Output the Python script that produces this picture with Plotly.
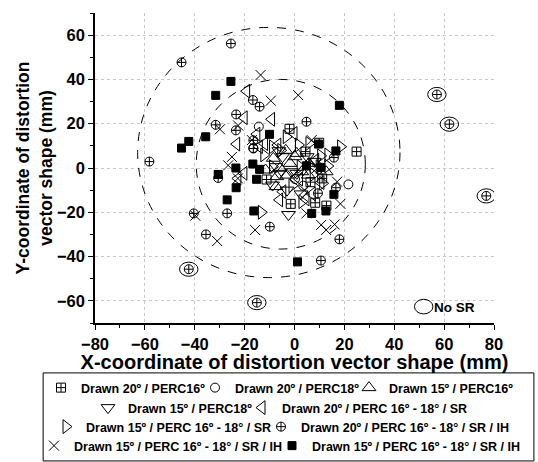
import plotly.graph_objects as go

# ---- data (mm) -------------------------------------------------------------
sqx_x = [-2.0, 24.9, 9.9, -11.2, 6.4, 11.1, -1.5, 8.3, 12.8, 4.4]
sqx_y = [17.7, 7.4, 11.4, -5.2, -6.4, -4.7, -16.2, -15.7, -17.0, 7.4]

circ_x = [-14.3, 21.6, 0.2, 3.5, -16.5]
circ_y = [18.7, -7.4, -5.0, -8.0, 9.0]

tup_x = [-1.8, -5.8, -7.1, -3.1, 2.9, -8.5, 0.2, 5.5, 0.9, 5.8, 12.7, -11.6, -7.4, -3.5]
tup_y = [2.1, -0.1, -3.9, -3.2, -1.7, 4.4, 5.1, -3.2, 6.6, 2.1, -1.7, -0.9, -8.4, 8.0]

tdn_x = [-2.4, 2.6, -6.3, -4.8, -7.4, -6.0, -8.8, -1.2, 5.1, 0.9, -3.0, 8.0]
tdn_y = [-21.0, -11.7, 7.8, 5.1, 0.6, -2.4, -7.7, -1.7, 5.1, -2.4, -10.0, 3.0]

tlf_x = [-19.2, -20.2, -9.2, -23.2, -0.2, -15.1, -14.1, -6.7, -20.3, -22.7,
         -6.0, -4.7, 10.6, 7.1, 4.6, -12.0, 2.0, 8.5]
tlf_y = [34.7, 22.7, 22.0, 10.8, 15.6, 15.3, 9.6, 10.4, -2.4, -4.7,
         -14.4, -10.7, -6.6, -11.7, -14.0, 11.0, -5.0, 3.5]

trt_x = [18.5, 13.4, 10.5, 5.8, 1.6, -3.3, -8.8, -12.3, -8.8, 2.3, 9.9, 13.4,
         11.3, 3.0, -13.3, -5.5, 7.5, -1.0]
trt_y = [9.6, 5.9, 5.5, 11.1, 10.4, 14.1, 9.6, 5.9, 0.6, 0.6, 0.6, 0.9,
         -6.9, -15.2, -20.0, 8.0, -3.0, -8.0]

cx_x = [-25.5, -45.3, -58.2, -16.7, -14.0, -23.4, -23.5, -31.6, 4.8, -16.5,
        -16.5, -30.6, -40.4, -27.0, -35.5, -9.9, 10.6, 18.0, 9.4, 16.6, 15.8,
        57.1, 62.1, 76.9, -42.4, -15.1]
cx_y = [56.2, 47.7, 2.9, 30.7, 27.7, 24.2, 17.0, 19.5, 20.9, 12.5,
        8.8, -4.5, -20.5, -20.5, -30.0, -26.5, -41.8, -32.2, -11.4, -8.9, 4.7,
        33.2, 19.8, -12.6, -45.7, -60.8]

xt_x = [-13.6, -9.5, 1.5, -29.9, -22.6, -25.1, -26.6, -22.7, -17.1, -39.8,
        -31.0, -15.8, 4.8, 10.7, 12.7, 16.1, 18.4, 17.1, 6.9, 4.0, 9.0]
xt_y = [42.0, 30.4, 32.9, 17.5, 19.2, 5.0, 1.2, -4.7, 12.6, -21.5,
        -33.0, -28.0, -20.5, -25.7, -28.0, -25.5, -16.2, -6.2, 12.6, -10.0, 0.0]

fsq_x = [-25.5, -31.6, 18.0, -35.6, -42.4, -45.3, -10.0, 9.6, 16.6, -23.5,
         -16.7, -14.0, -30.6, -15.2, -23.4, 4.8, 10.6, 15.8, -27.0, -16.3,
         6.9, 12.6, 1.2]
fsq_y = [39.1, 32.8, 28.3, 14.1, 12.0, 9.0, 15.2, 10.8, 7.7, 0.0,
         1.8, -0.6, -2.9, -5.1, -8.9, 1.0, 0.3, -11.9, -14.4, -19.4,
         -20.5, -19.4, -42.4]

# points without SR (circled)
nosr_x = [57.1, 62.1, 76.9, -42.4, -15.1]
nosr_y = [33.2, 19.8, -12.6, -45.7, -60.8]

# dashed reference circles: (centre x, centre y, radius x, radius y)
rings = [(-10.3, 7.0, 52.6, 56.5), (-5.5, 1.7, 33.9, 38.3)]

FONT = "Liberation Sans, Arial, sans-serif"
IH = "Drawn 15º / PERC 16º - 18° / SR / IH"

series = [
    ("Drawn 20º / PERC16º", sqx_x, sqx_y, "square-cross-open", 9),
    ("Drawn 20º / PERC18º", circ_x, circ_y, "circle-open", 9),
    ("Drawn 15º / PERC16º", tup_x, tup_y, "triangle-up-open", 12),
    ("Drawn 15º / PERC18º", tdn_x, tdn_y, "triangle-down-open", 12),
    ("Drawn 20º / PERC 16º - 18° / SR", tlf_x, tlf_y, "triangle-left-open", 12),
    ("Drawn 15º / PERC 16º - 18° / SR", trt_x, trt_y, "triangle-right-open", 12),
    ("Drawn 20º / PERC 16º - 18° / SR / IH", cx_x, cx_y, "circle-cross-open", 9),
    (IH, xt_x, xt_y, "x-thin-open", 10),
    (IH, fsq_x, fsq_y, "square", 8),
]

# legend key layout: one key per series, (left edge px, row centre px)
key_pos = [(41, 388), (195, 388), (349, 388),
           (88, 408), (242, 408),
           (46, 427), (261, 427),
           (34, 446), (272, 446)]

W, H = 538, 462

fig = go.Figure()
leg_layout = {}
for i, ((name, xs, ys, sym, size), (lx, ly)) in enumerate(zip(series, key_pos)):
    key = "legend" if i == 0 else f"legend{i + 1}"
    fig.add_trace(go.Scatter(
        x=xs, y=ys, mode="markers", name=name, legend=key, showlegend=True,
        marker=dict(symbol=sym, size=size, color="black",
                    line=dict(color="black", width=1)),
    ))
    leg_layout[key] = dict(orientation="h", xref="container", yref="container",
                           x=lx / W, xanchor="left",
                           y=(H - ly) / H, yanchor="middle", itemwidth=30,
                           bgcolor="rgba(0,0,0,0)", borderwidth=0,
                           font=dict(family=FONT, size=12.5, color="black",
                                     weight="bold"))

shapes = []
for cx, cy, rx, ry in rings:
    shapes.append(dict(type="circle", xref="x", yref="y",
                       x0=cx - rx, x1=cx + rx, y0=cy - ry, y1=cy + ry,
                       line=dict(color="black", width=1, dash="dash")))
for px, py in zip(nosr_x, nosr_y):
    shapes.append(dict(type="circle", xref="x", yref="y",
                       x0=px - 3.7, x1=px + 3.7, y0=py - 3.2, y1=py + 3.2,
                       line=dict(color="black", width=1)))
# key for the circled points
shapes.append(dict(type="circle", xref="x", yref="y",
                   x0=51.8 - 3.7, x1=51.8 + 3.7, y0=-62.6 - 3.3, y1=-62.6 + 3.3,
                   line=dict(color="black", width=1)))
# frame around the legend
shapes.append(dict(type="rect", xref="paper", yref="paper",
                   x0=-0.13, x1=1.1, y0=-0.445, y1=-0.161,
                   line=dict(color="black", width=1)))

axis_common = dict(
    showline=True, linecolor="black", linewidth=1.5, automargin=False,
    ticks="outside", ticklen=5, tickwidth=1, tickcolor="black",
    showgrid=True, gridcolor="#c8c8c8", griddash="dot", gridwidth=1,
    zeroline=False,
    tickfont=dict(family=FONT, size=16.5, color="black", weight="bold"),
    minor=dict(dtick=10, ticks="outside", ticklen=3, tickcolor="black",
               showgrid=False),
)

fig.update_layout(
    width=W, height=H, showlegend=True,
    margin=dict(l=95, r=44, t=13, b=139),
    paper_bgcolor="white", plot_bgcolor="white",
    shapes=shapes,
    annotations=[dict(x=55.2, y=-62.8, xref="x", yref="y", text="No SR",
                      showarrow=False, xanchor="left", yanchor="middle",
                      font=dict(family=FONT, size=13.5, color="black",
                                weight="bold"))],
    xaxis=dict(range=[-80, 80], dtick=20, tick0=0,
               title=dict(text="X-coordinate of distortion vector shape (mm)",
                          standoff=2,
                          font=dict(family=FONT, size=20, color="black",
                                    weight="bold")),
               **axis_common),
    yaxis=dict(range=[-70, 70], dtick=20, tick0=0,
               title=dict(text="Y-coordinate of distortion<br>vector shape (mm)",
                          standoff=0,
                          font=dict(family=FONT, size=17.5, color="black",
                                    weight="bold")),
               **axis_common),
    yaxis2=dict(overlaying="y", side="right", anchor="x", matches="y",
                range=[-70, 70], dtick=20, tick0=0, automargin=False,
                showline=True, linecolor="black", linewidth=1.5,
                ticks="inside", ticklen=5, tickcolor="black",
                showticklabels=False, showgrid=False, zeroline=False,
                minor=dict(dtick=10, ticks="inside", ticklen=3,
                           tickcolor="black")),
    **leg_layout,
)

fig.write_html("out.html")
